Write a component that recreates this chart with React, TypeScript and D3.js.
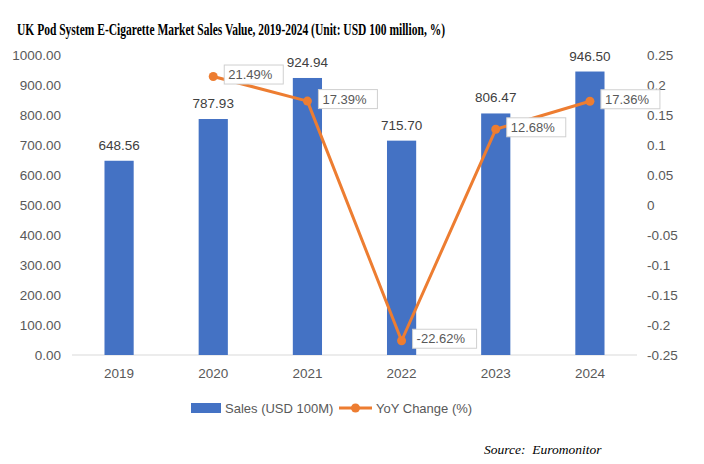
import React, { useEffect, useRef } from "react";
import * as d3 from "d3";

const years = ["2019", "2020", "2021", "2022", "2023", "2024"];
const sales = [648.56, 787.93, 924.94, 715.7, 806.47, 946.5];
// YoY change, first year has none
const yoy: (number | null)[] = [null, 0.2149, 0.1739, -0.2262, 0.1268, 0.1736];
const leftTicks = [0, 100, 200, 300, 400, 500, 600, 700, 800, 900, 1000];
const rightTicks = [-0.25, -0.2, -0.15, -0.1, -0.05, 0, 0.05, 0.1, 0.15, 0.2, 0.25];

const BLUE = "#4472C4";
const ORANGE = "#ED7D31";
const GREY = "#595959";
const SANS = "Liberation Sans, Arial, sans-serif";

const App: React.FC = () => {
  const svgRef = useRef<SVGSVGElement | null>(null);

  useEffect(() => {
    const width = 704;
    const height = 464;
    const margin = { top: 55.5, right: 67, bottom: 109, left: 72 };

    const svg = d3.select(svgRef.current).attr("width", width).attr("height", height);
    svg.selectAll("*").remove();

    const x = d3
      .scaleBand()
      .domain(years)
      .range([margin.left, width - margin.right])
      .padding(0);
    const barW = x.bandwidth() * 0.31;
    const cx = (d: string) => x(d)! + x.bandwidth() / 2;

    const yL = d3.scaleLinear().domain([0, 1000]).range([height - margin.bottom, margin.top]);
    const yR = d3.scaleLinear().domain([-0.25, 0.25]).range([height - margin.bottom, margin.top]);

    // Title
    svg
      .append("text")
      .attr("x", 17)
      .attr("y", 34.5)
      .attr("textLength", 428)
      .attr("lengthAdjust", "spacingAndGlyphs")
      .style("font-family", "Liberation Serif, Times New Roman, serif")
      .style("font-weight", "bold")
      .style("font-size", "16.5px")
      .attr("fill", "#000")
      .text("UK Pod System E-Cigarette Market Sales Value, 2019-2024 (Unit: USD 100 million, %)");

    // Left axis labels
    svg
      .append("g")
      .selectAll("text")
      .data(leftTicks)
      .join("text")
      .attr("x", 61)
      .attr("y", (d) => yL(d))
      .attr("dy", "0.35em")
      .attr("text-anchor", "end")
      .style("font-family", SANS)
      .style("font-size", "13.5px")
      .attr("fill", GREY)
      .text((d) => d3.format(".2f")(d));

    // Right axis labels
    svg
      .append("g")
      .selectAll("text")
      .data(rightTicks)
      .join("text")
      .attr("x", 647)
      .attr("y", (d) => yR(d))
      .attr("dy", "0.35em")
      .attr("text-anchor", "start")
      .style("font-family", SANS)
      .style("font-size", "13.5px")
      .attr("fill", GREY)
      .text((d) => String(+d.toFixed(2)));

    // Baseline
    svg
      .append("line")
      .attr("x1", margin.left)
      .attr("x2", width - margin.right)
      .attr("y1", yL(0))
      .attr("y2", yL(0))
      .attr("stroke", "#d9d9d9")
      .attr("stroke-width", 1);

    // X labels
    svg
      .append("g")
      .selectAll("text")
      .data(years)
      .join("text")
      .attr("x", (d) => cx(d))
      .attr("y", 378)
      .attr("text-anchor", "middle")
      .style("font-family", SANS)
      .style("font-size", "13.5px")
      .attr("fill", GREY)
      .text((d) => d);

    // Bars
    svg
      .append("g")
      .selectAll("rect")
      .data(sales)
      .join("rect")
      .attr("x", (_, i) => cx(years[i]) - barW / 2)
      .attr("y", (d) => yL(d))
      .attr("width", barW)
      .attr("height", (d) => yL(0) - yL(d))
      .attr("fill", BLUE);

    // Bar labels
    svg
      .append("g")
      .selectAll("text")
      .data(sales)
      .join("text")
      .attr("x", (_, i) => cx(years[i]))
      .attr("y", (d) => yL(d) - 11)
      .attr("text-anchor", "middle")
      .style("font-family", SANS)
      .style("font-size", "13.5px")
      .attr("fill", "#404040")
      .text((d) => d.toFixed(2));

    // Line
    const pts = years
      .map((yr, i) => ({ yr, v: yoy[i] }))
      .filter((p) => p.v !== null) as { yr: string; v: number }[];

    const line = d3
      .line<{ yr: string; v: number }>()
      .x((d) => cx(d.yr))
      .y((d) => yR(d.v));

    svg
      .append("path")
      .datum(pts)
      .attr("d", line)
      .attr("fill", "none")
      .attr("stroke", ORANGE)
      .attr("stroke-width", 3)
      .attr("stroke-linejoin", "round");

    svg
      .append("g")
      .selectAll("circle")
      .data(pts)
      .join("circle")
      .attr("cx", (d) => cx(d.yr))
      .attr("cy", (d) => yR(d.v))
      .attr("r", 4.5)
      .attr("fill", ORANGE);

    // Line labels in boxes
    const lbl = svg
      .append("g")
      .selectAll("g")
      .data(pts)
      .join("g")
      .attr("transform", (d) => `translate(${cx(d.yr) + 11},${yR(d.v) - 2})`);

    lbl
      .append("rect")
      .attr("x", 0)
      .attr("y", -9.5)
      .attr("width", (d) => (d.v < 0 ? 64 : 59))
      .attr("height", 19)
      .attr("fill", "#fff")
      .attr("stroke", "#d0d0d0")
      .attr("stroke-width", 1);

    lbl
      .append("text")
      .attr("x", 4)
      .attr("y", 0)
      .attr("dy", "0.36em")
      .style("font-family", SANS)
      .style("font-size", "13px")
      .attr("fill", GREY)
      .text((d) => (d.v * 100).toFixed(2) + "%");

    // Legend
    const lg = svg.append("g").attr("transform", "translate(0,408)");
    lg.append("rect").attr("x", 191).attr("y", -5).attr("width", 30).attr("height", 10).attr("fill", BLUE);
    lg.append("text")
      .attr("x", 225)
      .attr("dy", "0.35em")
      .style("font-family", SANS)
      .style("font-size", "13px")
      .attr("fill", GREY)
      .text("Sales (USD 100M)");
    lg.append("line")
      .attr("x1", 339)
      .attr("x2", 372)
      .attr("stroke", ORANGE)
      .attr("stroke-width", 3);
    lg.append("circle").attr("cx", 355.5).attr("r", 4.5).attr("fill", ORANGE);
    lg.append("text")
      .attr("x", 376)
      .attr("dy", "0.35em")
      .style("font-family", SANS)
      .style("font-size", "13px")
      .attr("fill", GREY)
      .text("YoY Change (%)");

    // Source
    svg
      .append("text")
      .attr("x", 484)
      .attr("y", 454)
      .style("font-family", "Liberation Serif, Times New Roman, serif")
      .style("font-style", "italic")
      .style("font-size", "13.5px")
      .attr("fill", "#000")
      .attr("xml:space", "preserve")
      .text("Source:  Euromonitor");
  }, []);

  return (
    <div style={{ position: "absolute", left: 0, top: 0, background: "#fff" }}>
      <svg ref={svgRef} style={{ display: "block" }}></svg>
    </div>
  );
};

export default App;
